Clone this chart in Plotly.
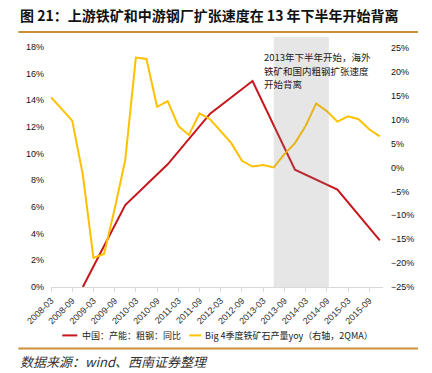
import plotly.graph_objects as go

# ---- data ----
quarters = ["2008-03", "2008-06", "2008-09", "2008-12", "2009-03", "2009-06", "2009-09", "2009-12",
            "2010-03", "2010-06", "2010-09", "2010-12", "2011-03", "2011-06", "2011-09", "2011-12",
            "2012-03", "2012-06", "2012-09", "2012-12", "2013-03", "2013-06", "2013-09", "2013-12",
            "2014-03", "2014-06", "2014-09", "2014-12", "2015-03", "2015-06", "2015-09", "2015-12"]
big4_yoy = [14.7, 12.3, 9.8, -1.5, -18.9, -18.1, -8.7, 1.6,
            23.0, 22.7, 12.7, 13.9, 8.7, 6.8, 11.3, 10.1,
            7.7, 5.1, 1.4, 0.2, 0.5, 0.0, 2.8, 5.1,
            8.7, 13.4, 11.8, 9.6, 10.7, 10.1, 8.0, 6.5]
steel_dates = ["2008-12", "2009-12", "2010-12", "2011-12", "2012-12", "2013-12", "2014-12", "2015-12"]
steel_cap_yoy = [0.0, 6.15, 9.2, 13.0, 15.45, 8.8, 7.3, 3.5]
tick_labels = ["2008-03", "2008-09", "2009-03", "2009-09", "2010-03", "2010-09", "2011-03", "2011-09",
               "2012-03", "2012-09", "2013-03", "2013-09", "2014-03", "2014-09", "2015-03", "2015-09"]
left_ticks = [0, 2, 4, 6, 8, 10, 12, 14, 16, 18]
right_ticks = [-25, -20, -15, -10, -5, 0, 5, 10, 15, 20, 25]

name_red = "中国：产能：粗钢：同比"
name_yellow = "Big 4季度铁矿石产量yoy（右轴，2QMA）"
title = "图 21：上游铁矿和中游钢厂扩张速度在 13 年下半年开始背离"
note_lines = ["2013年下半年开始，海外", "铁矿和国内粗钢扩张速度", "开始背离"]
source = "数据来源：wind、西南证券整理"

RED = "#C8161D"
YELLOW = "#FFC000"
TAN = "#C98F3A"

qidx = {q: i for i, q in enumerate(quarters)}
x_yellow = list(range(len(quarters)))
x_red = [qidx[d] for d in steel_dates]

W, H = 432, 373
L, R, T, B = 50.7, 49, 37, 85.5
ph = H - T - B
pw = W - L - R


def py(y):  # pixel y -> paper y
    return (H - B - y) / ph


def px(x):  # pixel x -> paper x
    return (x - L) / pw


CJK = "Noto Sans CJK SC"
LAT = "Liberation Sans, Arial"

fig = go.Figure()
fig.add_trace(go.Scatter(x=x_red, y=steel_cap_yoy, name=name_red, mode="lines",
                         line=dict(color=RED, width=2), yaxis="y", showlegend=False))
fig.add_trace(go.Scatter(x=x_yellow, y=big4_yoy, name=name_yellow, mode="lines",
                         line=dict(color=YELLOW, width=2), yaxis="y2", showlegend=False))

fig.update_layout(
    width=W, height=H,
    margin=dict(l=L, r=R, t=T, b=B, pad=0),
    paper_bgcolor="white", plot_bgcolor="white",
    font=dict(family=LAT, size=9, color="#222"),
    xaxis=dict(range=[0, 31.3], tickmode="array",
               tickvals=[qidx[t] for t in tick_labels], ticktext=tick_labels,
               tickangle=-45, showgrid=False, zeroline=False,
               showline=True, linecolor="#d9d9d9", linewidth=1,
               ticks="outside", ticklen=4, tickcolor="#d9d9d9",
               tickfont=dict(family=LAT, size=9, color="#333")),
    yaxis=dict(range=[0, 18.75], tickmode="array", tickvals=left_ticks,
               ticktext=[f"{v}%" for v in left_ticks], showgrid=False, zeroline=False,
               showline=False, ticks="", ticklabelstandoff=6,
               tickfont=dict(family=LAT, size=9, color="#111")),
    yaxis2=dict(range=[-25, 27.3], overlaying="y", side="right", tickmode="array",
                tickvals=right_ticks, ticktext=[f"{v}%".replace("-", "−") for v in right_ticks],
                showgrid=False, zeroline=False, showline=False, ticks="", ticklabelstandoff=7,
                tickfont=dict(family=LAT, size=9, color="#111")),
    showlegend=False,
)

# shaded period (2013 H2 - 2014 Q3)
fig.add_shape(type="rect", xref="x", yref="paper", x0=21.0, x1=26.2, y0=0, y1=1,
              fillcolor="rgba(128,128,128,0.2)", line=dict(width=0), layer="above")

# decorative rules (title underline and footer line), built from segments
for yy in (32, 349):
    for a, b in ((18, L), (L, W - R), (W - R, 418)):
        fig.add_shape(type="line", xref="paper", yref="paper", x0=px(a), x1=px(b),
                      y0=py(yy), y1=py(yy), line=dict(color=TAN, width=2))

# title
fig.add_annotation(text="<b>" + title + "</b>", xref="paper", yref="paper", x=px(18), y=py(15),
                   xanchor="left", yanchor="middle", showarrow=False,
                   font=dict(family=CJK, size=14, color="#111"))

# manual legend
leg_y = 336
for (x0, x1, tx, col, txt) in ((62, 77, 80, RED, name_red), (189, 201, 203, YELLOW, name_yellow)):
    fig.add_shape(type="line", xref="paper", yref="paper", x0=px(x0), x1=px(x1),
                  y0=py(leg_y), y1=py(leg_y), line=dict(color=col, width=2))
    fig.add_annotation(text=txt, xref="paper", yref="paper", x=px(tx), y=py(leg_y),
                       xanchor="left", yanchor="middle", showarrow=False,
                       font=dict(family=CJK, size=9, color="#222"))

for k, line in enumerate(note_lines):
    fig.add_annotation(text=line, xref="paper", yref="paper", x=px(262), y=py(57.5 + 13.5 * k),
                       xanchor="left", yanchor="middle", align="left", showarrow=False,
                       font=dict(family=CJK, size=9.5, color="#222"))

fig.add_annotation(text="<i>" + source + "</i>", xref="paper", yref="paper", x=px(18), y=py(362),
                   xanchor="left", yanchor="middle", align="left", showarrow=False,
                   font=dict(family=CJK, size=13, color="#333"))

fig.write_html("out.html", config={"displayModeBar": False},
               post_script="document.body.style.margin='0';")
